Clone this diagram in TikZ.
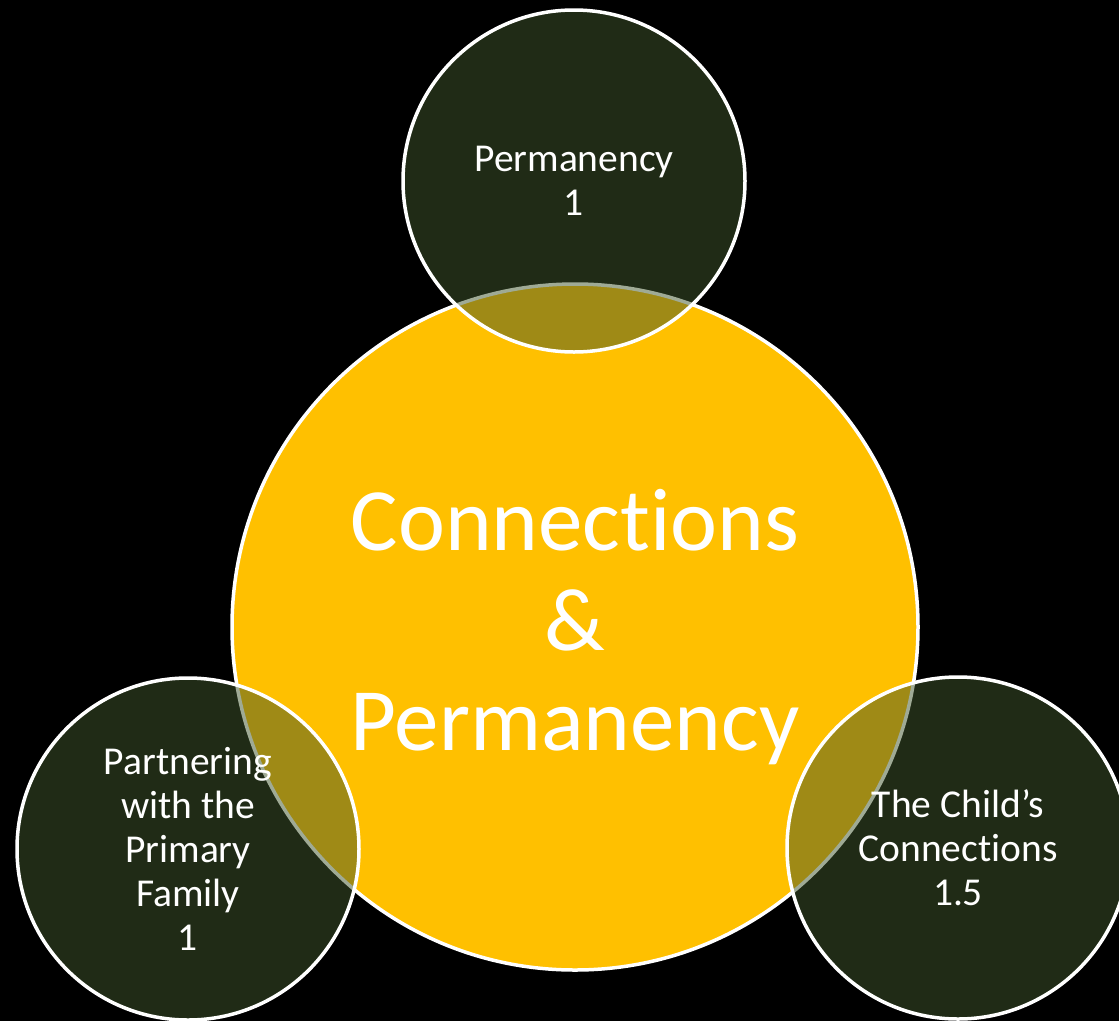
\documentclass[tikz,border=0pt]{standalone}
\usepackage{fontspec}
\setmainfont{Carlito}[Ligatures={NoCommon}]
\definecolor{goldfill}{RGB}{255,192,0}
\definecolor{olivefill}{RGB}{64,86,44}
\tikzset{
  bigcirc/.style={circle, inner sep=0pt, minimum size=686pt, fill=goldfill, draw=white, line width=3.5pt},
  smallcirc/.style={circle, inner sep=0pt, minimum size=342pt, fill=olivefill, fill opacity=0.5, draw=white, draw opacity=1, line width=3.5pt},
  bigtext/.style={text=white, align=center, font=\fontsize{89}{100}\selectfont},
  smalltext/.style={text=white, align=center, font=\fontsize{39.5}{44}\selectfont}
}
\begin{document}
\begin{tikzpicture}[x=1pt,y=-1pt]
\fill[black] (0,0) rectangle (1119,1021);
\useasboundingbox (0,0) rectangle (1119,1021);
\begin{scope}
\clip (0,0) rectangle (1119,1021);
\node[bigcirc] (main) at (575,627) {};
\node[bigtext] (maintext) at (575,627) {Connections\\\&\\Permanency};
\node[smallcirc] (top) at (574,181) {};
\node[smallcirc] (left) at (188,849) {};
\node[smallcirc] (right) at (958,848) {};
\node[smalltext] (toptext) at (574,181) {Permanency\\1};
\node[smalltext] (lefttext) at (188,849) {Partnering\\with the\\Primary\\Family\\1};
\node[smalltext] (righttext) at (958,848) {The Child’s\\Connections\\1.5};
\end{scope}
\end{tikzpicture}
\end{document}
